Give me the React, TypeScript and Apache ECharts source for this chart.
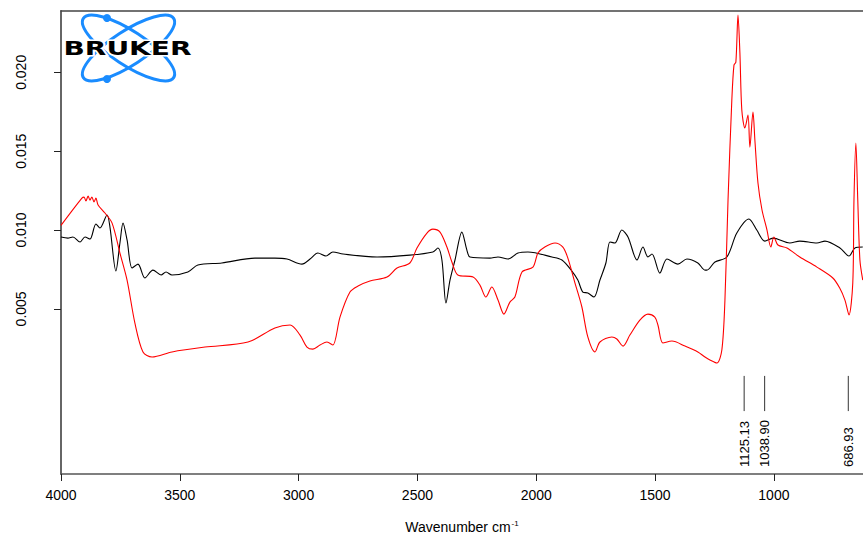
import React, { useEffect, useRef } from "react";
import * as echarts from "echarts";

// Red spectrum: wavenumber (cm-1) and absorbance
const redWn = [4000, 3912, 3903, 3895, 3886, 3878, 3870, 3861, 3853, 3844, 3815, 3785, 3752, 3722, 3689, 3655, 3617, 3533, 3394, 3213, 3100, 3036, 2994, 2965, 2940, 2910, 2881, 2856, 2826, 2784, 2750, 2700, 2628, 2586, 2532, 2502, 2460, 2435, 2405, 2376, 2355, 2330, 2266, 2237, 2212, 2187, 2161, 2136, 2111, 2090, 2060, 2014, 1993, 1964, 1921, 1888, 1867, 1837, 1808, 1783, 1753, 1732, 1682, 1661, 1635, 1606, 1564, 1530, 1501, 1488, 1467, 1429, 1374, 1320, 1290, 1269, 1240, 1219, 1206, 1193, 1177, 1168, 1160, 1151, 1143, 1135, 1122, 1109, 1101, 1088, 1080, 1067, 1050, 1029, 1013, 1000, 983, 945, 891, 819, 752, 723, 701, 684, 668, 663, 655, 647, 638, 626];
const redAbs = [0.0103, 0.01203, 0.01209, 0.01184, 0.01216, 0.0119, 0.01209, 0.01178, 0.01203, 0.01159, 0.01108, 0.01044, 0.00854, 0.00683, 0.0041, 0.00227, 0.00195, 0.00227, 0.00258, 0.0029, 0.00379, 0.00398, 0.00334, 0.00258, 0.00245, 0.00271, 0.0029, 0.00271, 0.00448, 0.00607, 0.00645, 0.00677, 0.00702, 0.00759, 0.00791, 0.00886, 0.00981, 0.01006, 0.00987, 0.00892, 0.00797, 0.00715, 0.00702, 0.00651, 0.00575, 0.00639, 0.00556, 0.00467, 0.00543, 0.00575, 0.00734, 0.00765, 0.00854, 0.00892, 0.00918, 0.00892, 0.00822, 0.00664, 0.00512, 0.00322, 0.00227, 0.0029, 0.00322, 0.00309, 0.00264, 0.00334, 0.00429, 0.00467, 0.00448, 0.00398, 0.00284, 0.00296, 0.00264, 0.00227, 0.00195, 0.00176, 0.00157, 0.00239, 0.00556, 0.0119, 0.01824, 0.02046, 0.02065, 0.02363, 0.02122, 0.01761, 0.01647, 0.01729, 0.01526, 0.01748, 0.01571, 0.01298, 0.01127, 0.01, 0.00892, 0.00956, 0.00905, 0.00886, 0.00829, 0.00765, 0.00696, 0.00632, 0.00556, 0.00461, 0.00664, 0.0119, 0.01552, 0.0119, 0.0081, 0.00683];

// Black spectrum
const blackWn = [4000, 3971, 3950, 3920, 3899, 3878, 3853, 3836, 3806, 3794, 3769, 3752, 3739, 3722, 3701, 3676, 3647, 3613, 3579, 3558, 3533, 3466, 3424, 3323, 3184, 3100, 3049, 2986, 2952, 2919, 2885, 2856, 2813, 2670, 2532, 2435, 2414, 2397, 2380, 2363, 2342, 2313, 2292, 2279, 2195, 2161, 2119, 2077, 2035, 1934, 1892, 1850, 1825, 1804, 1783, 1757, 1732, 1707, 1690, 1669, 1640, 1614, 1576, 1551, 1530, 1513, 1480, 1450, 1404, 1366, 1320, 1290, 1282, 1248, 1198, 1156, 1105, 1072, 1038, 1004, 933, 891, 819, 785, 722, 684, 659, 626];
const blackAbs = [0.00956, 0.00949, 0.00956, 0.00924, 0.00956, 0.00943, 0.01038, 0.01013, 0.01095, 0.01019, 0.0074, 0.00918, 0.01044, 0.00937, 0.00759, 0.00784, 0.00696, 0.00746, 0.00715, 0.00734, 0.00715, 0.00734, 0.00778, 0.00791, 0.00822, 0.00822, 0.00816, 0.00784, 0.00816, 0.00854, 0.00835, 0.00861, 0.00848, 0.00829, 0.00841, 0.00861, 0.00886, 0.0081, 0.00537, 0.00683, 0.0081, 0.00987, 0.00873, 0.00829, 0.00822, 0.00829, 0.00816, 0.00854, 0.00861, 0.00829, 0.0081, 0.0074, 0.00683, 0.00607, 0.00601, 0.00575, 0.00683, 0.00791, 0.00924, 0.00918, 0.01, 0.00956, 0.0081, 0.00892, 0.00829, 0.00848, 0.00727, 0.00816, 0.00784, 0.00816, 0.00791, 0.00746, 0.00746, 0.00797, 0.00829, 0.00981, 0.0107, 0.01, 0.0093, 0.00949, 0.00918, 0.0093, 0.00918, 0.0093, 0.00886, 0.00835, 0.00886, 0.00892];

// Peak annotations
const peakWn = [1125.13, 1038.9, 686.93];
const peakLabels = ["1125.13", "1038.90", "686.93"];

// Axis ticks
const xTicks = [4000, 3500, 3000, 2500, 2000, 1500, 1000];
const yTicks = [0.005, 0.01, 0.015, 0.02];

const X_MIN = 625;
const X_MAX = 4000;
const Y_MIN = -0.00547;
const Y_MAX = 0.02389;
const ANNO_TOP = 0.00075;
const ANNO_BOTTOM = -0.00148;
const ANNO_TEXT = -0.00503;

const FONT = '"Liberation Sans", Arial, sans-serif';

export default function App() {
  const ref = useRef<HTMLDivElement>(null);
  useEffect(() => {
    const chart = echarts.init(ref.current!, null, { renderer: "svg" });
    const red = redWn.map((w, i) => [w, redAbs[i]]);
    const black = blackWn.map((w, i) => [w, blackAbs[i]]);
    const blue = "#1a8cff";
    chart.setOption({
      animation: false,
      backgroundColor: "#fff",
      grid: { left: 61, right: 0, top: 11, bottom: 63, containLabel: false, outerBoundsMode: "none" },
      xAxis: [
        {
          type: "value",
          inverse: true,
          min: X_MIN,
          max: X_MAX,
          name: "{a|Wavenumber cm}{s|-1}",
          nameLocation: "middle",
          nameGap: 45,
          nameTextStyle: {
            rich: {
              a: { fontSize: 14, fontFamily: FONT, color: "#000", lineHeight: 16 },
              s: { fontSize: 8, fontFamily: FONT, color: "#000", verticalAlign: "top", lineHeight: 16, padding: [0, 0, 6, 1] },
            },
          },
          axisLine: { show: true, onZero: false, lineStyle: { color: "#555", width: 1.5 } },
          axisTick: { show: true, length: 7, customValues: xTicks, lineStyle: { color: "#222", width: 1 } },
          axisLabel: {
            show: true,
            customValues: xTicks,
            margin: 14,
            fontSize: 14,
            fontFamily: FONT,
            color: "#000",
            formatter: (v: number) => String(v),
          },
          splitLine: { show: false },
        },
        {
          type: "value",
          position: "top",
          inverse: true,
          min: X_MIN,
          max: X_MAX,
          axisLine: { show: true, onZero: false, lineStyle: { color: "#444", width: 1.5 } },
          axisTick: { show: false },
          axisLabel: { show: false },
          splitLine: { show: false },
        },
      ],
      yAxis: {
        type: "value",
        min: Y_MIN,
        max: Y_MAX,
        axisLine: { show: true, onZero: false, lineStyle: { color: "#666", width: 2 } },
        axisTick: { show: true, length: 7, customValues: yTicks, lineStyle: { color: "#222", width: 1 } },
        axisLabel: {
          show: true,
          customValues: yTicks,
          rotate: 90,
          margin: 33,
          fontSize: 14,
          fontFamily: FONT,
          color: "#000",
          formatter: (v: number) => v.toFixed(3),
        },
        splitLine: { show: false },
      },
      series: [
        {
          type: "line",
          data: black,
          showSymbol: false,
          smooth: 0.3,
          lineStyle: { color: "#000", width: 1.1 },
          z: 2,
        },
        {
          type: "line",
          data: red,
          showSymbol: false,
          smooth: 0.3,
          lineStyle: { color: "#ff0000", width: 1.1 },
          z: 3,
        },
        {
          type: "custom",
          data: peakWn.map((w) => [w, ANNO_TOP]),
          clip: false,
          z: 4,
          renderItem: (params: any, api: any) => {
            const w = api.value(0);
            const p1 = api.coord([w, ANNO_TOP]);
            const p2 = api.coord([w, ANNO_BOTTOM]);
            const p3 = api.coord([w, ANNO_TEXT]);
            return {
              type: "group",
              children: [
                {
                  type: "line",
                  shape: { x1: p1[0], y1: p1[1], x2: p2[0], y2: p2[1] },
                  style: { stroke: "#333", lineWidth: 1 },
                },
                {
                  type: "text",
                  x: p3[0],
                  y: p3[1],
                  rotation: Math.PI / 2,
                  style: {
                    text: peakLabels[params.dataIndex],
                    fontSize: 13,
                    fontFamily: FONT,
                    fill: "#000",
                    align: "left",
                    verticalAlign: "middle",
                  },
                },
              ],
            };
          },
        },
      ],
      graphic: {
        elements: [
          {
            type: "ellipse",
            x: 128.5,
            y: 48,
            rotation: 0.58,
            shape: { cx: 0, cy: 0, rx: 54, ry: 17 },
            style: { fill: "none", stroke: blue, lineWidth: 3 },
            z: 10,
          },
          {
            type: "ellipse",
            x: 128.5,
            y: 48,
            rotation: -0.58,
            shape: { cx: 0, cy: 0, rx: 54, ry: 17 },
            style: { fill: "none", stroke: blue, lineWidth: 3 },
            z: 10,
          },
          { type: "circle", shape: { cx: 107, cy: 18, r: 4 }, style: { fill: blue }, z: 11 },
          { type: "circle", shape: { cx: 107, cy: 79, r: 4 }, style: { fill: blue }, z: 11 },
          {
            type: "text",
            x: 127.5,
            y: 48.5,
            scaleX: 1.4,
            style: {
              text: "BRUKER",
              font: 'bold 20px "DejaVu Sans"',
              align: "center",
              verticalAlign: "middle",
              fill: "#000",
              stroke: "#fff",
              lineWidth: 3,
            },
            z: 12,
          },
        ],
      },
    });
    return () => chart.dispose();
  }, []);
  return (
    <div
      ref={ref}
      style={{ position: "fixed", left: 0, top: 0, width: 863, height: 537, background: "#fff" }}
    />
  );
}
